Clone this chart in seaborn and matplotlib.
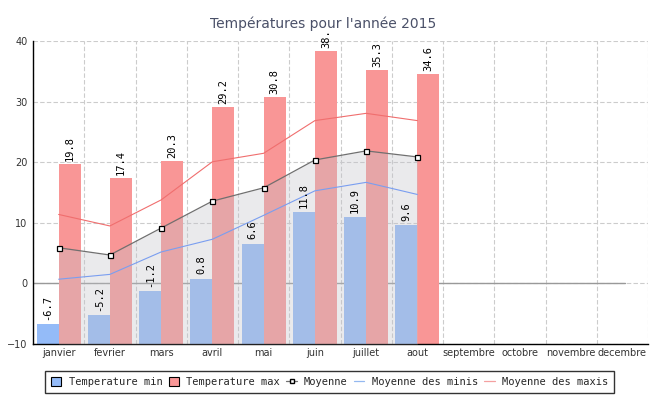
import numpy as np
import pandas as pd
import matplotlib
matplotlib.use("Agg")
import matplotlib.pyplot as plt
import seaborn as sns
from matplotlib.patches import Patch
from matplotlib.lines import Line2D

months = ["janvier", "fevrier", "mars", "avril", "mai", "juin", "juillet",
          "aout", "septembre", "octobre", "novembre", "decembre"]
temp_min = [-6.7, -5.2, -1.2, 0.8, 6.6, 11.8, 10.9, 9.6]
temp_max = [19.8, 17.4, 20.3, 29.2, 30.8, 38.4, 35.3, 34.6]
moyenne = [5.9, 4.7, 9.15, 13.6, 15.8, 20.4, 21.9, 20.9]
moy_minis = [0.7, 1.5, 5.2, 7.3, 11.25, 15.3, 16.7, 14.7]
moy_maxis = [11.4, 9.5, 13.8, 20.1, 21.5, 26.9, 28.1, 26.9]
y_ticks = [-10, 0, 10, 20, 30, 40]

sns.set_style("white")
plt.rcParams['font.family'] = ['DejaVu Sans']

YMIN, YMAX = -10, 40
C_MIN = "#94BBF8"
C_MAX = "#F99696"

fig = plt.figure(figsize=(6.5, 4.0), dpi=100)
ax = fig.add_axes([33/650, 1-344/400, (648-33)/650, (344-41.3)/400])

n = len(temp_min)
pos = np.arange(n)
bw = 0.43
df = pd.DataFrame({"pos": pos, "min": temp_min, "max": temp_max,
                   "moy": moyenne, "mmin": moy_minis, "mmax": moy_maxis})

ax.bar(df["pos"] - bw/2, df["min"] - YMIN, bottom=YMIN, width=bw,
       color=C_MIN, linewidth=0, zorder=2)
ax.bar(df["pos"] + bw/2, df["max"] - YMIN, bottom=YMIN, width=bw,
       color=C_MAX, linewidth=0, zorder=2)

# shaded area under the average
ax.fill_between(df["pos"], df["moy"], YMIN, color="#C2C3CA", alpha=0.34,
                linewidth=0, zorder=3)

sns.lineplot(data=df, x="pos", y="mmin", ax=ax, color="#7A9EF0",
             linewidth=0.8, zorder=4)
sns.lineplot(data=df, x="pos", y="mmax", ax=ax, color="#F06E6E",
             linewidth=0.8, zorder=4)
sns.lineplot(data=df, x="pos", y="moy", ax=ax, color="#707070",
             linewidth=0.9, marker="s", markersize=3.6, markerfacecolor="white",
             markeredgecolor="black", markeredgewidth=0.9, zorder=5)

ax.axhline(0, xmin=0, xmax=0.963, color="#999999", linewidth=1.0, zorder=1.5)

for x, v in zip(df["pos"], df["min"]):
    ax.annotate(f"{v}", (x - bw/2, v), xytext=(0, 3), textcoords="offset points",
                rotation=90, ha="center", va="bottom", fontsize=7.5,
                family="DejaVu Sans Mono", color="black", zorder=6)
for x, v in zip(df["pos"], df["max"]):
    ax.annotate(f"{v}", (x + bw/2, v), xytext=(0, 2), textcoords="offset points",
                rotation=90, ha="center", va="bottom", fontsize=7.5,
                family="DejaVu Sans Mono", color="black", zorder=6,
                annotation_clip=False)

ax.set_xlim(-0.5, len(months) - 0.5)
ax.set_ylim(YMIN, YMAX)
ax.set_xticks(np.arange(len(months)))
ax.set_xticklabels(months)
ax.set_xticks(np.arange(-0.5, len(months), 1), minor=True)
ax.set_yticks(y_ticks)
ax.set_yticks(np.arange(YMIN, YMAX + 0.1, 2.5), minor=True)
ax.set_xlabel("")
ax.set_ylabel("")

ax.tick_params(axis="x", which="major", length=0, labelsize=7, colors="#333333", pad=3)
ax.tick_params(axis="x", which="minor", direction="in", length=5, width=1, color="black")
ax.tick_params(axis="y", which="major", direction="in", length=5, width=1,
               labelsize=7, labelcolor="#333333", color="black", pad=4)
ax.tick_params(axis="y", which="minor", direction="in", length=3, width=1, color="black")

ax.grid(False)
ax.xaxis.grid(True, which="minor", color="#CCCCCC", linestyle=(0, (4, 2)), linewidth=0.8, zorder=0)
ax.yaxis.grid(True, which="major", color="#CCCCCC", linestyle=(0, (4, 2)), linewidth=0.8, zorder=0)
ax.set_axisbelow(True)

for s in ["top", "right"]:
    ax.spines[s].set_visible(False)
for s in ["left", "bottom"]:
    ax.spines[s].set_color("black")
    ax.spines[s].set_linewidth(1)

title = fig.text(0.497, 1 - 24/400, "Températures pour l'année 2015", ha="center", va="center",
                 fontsize=10, color="#4A5068", zorder=10,
                 bbox=dict(facecolor="white", edgecolor="none", pad=1.0))

handles = [
    Patch(facecolor=C_MIN, edgecolor="black", linewidth=0.8),
    Patch(facecolor=C_MAX, edgecolor="black", linewidth=0.8),
    Line2D([], [], color="#707070", linewidth=0.9, marker="s", markersize=3.5,
           markerfacecolor="white", markeredgecolor="black"),
    Line2D([], [], color="#94B8F0", linewidth=0.9),
    Line2D([], [], color="#F4A0A0", linewidth=0.9),
]
labels = ["Temperature min", "Temperature max", "Moyenne",
          "Moyenne des minis", "Moyenne des maxis"]
leg = fig.legend(handles, labels, loc="center", bbox_to_anchor=(0.507, 1 - 382/400),
                 ncol=5, frameon=True, fancybox=False, edgecolor="black",
                 prop={"family": "DejaVu Sans Mono", "size": 7.5},
                 handlelength=1.0, handleheight=1.0, handletextpad=0.7,
                 columnspacing=0.6, borderpad=0.6, borderaxespad=0.3)
leg.get_frame().set_linewidth(1.0)

fig.savefig("out.png", dpi=100)
